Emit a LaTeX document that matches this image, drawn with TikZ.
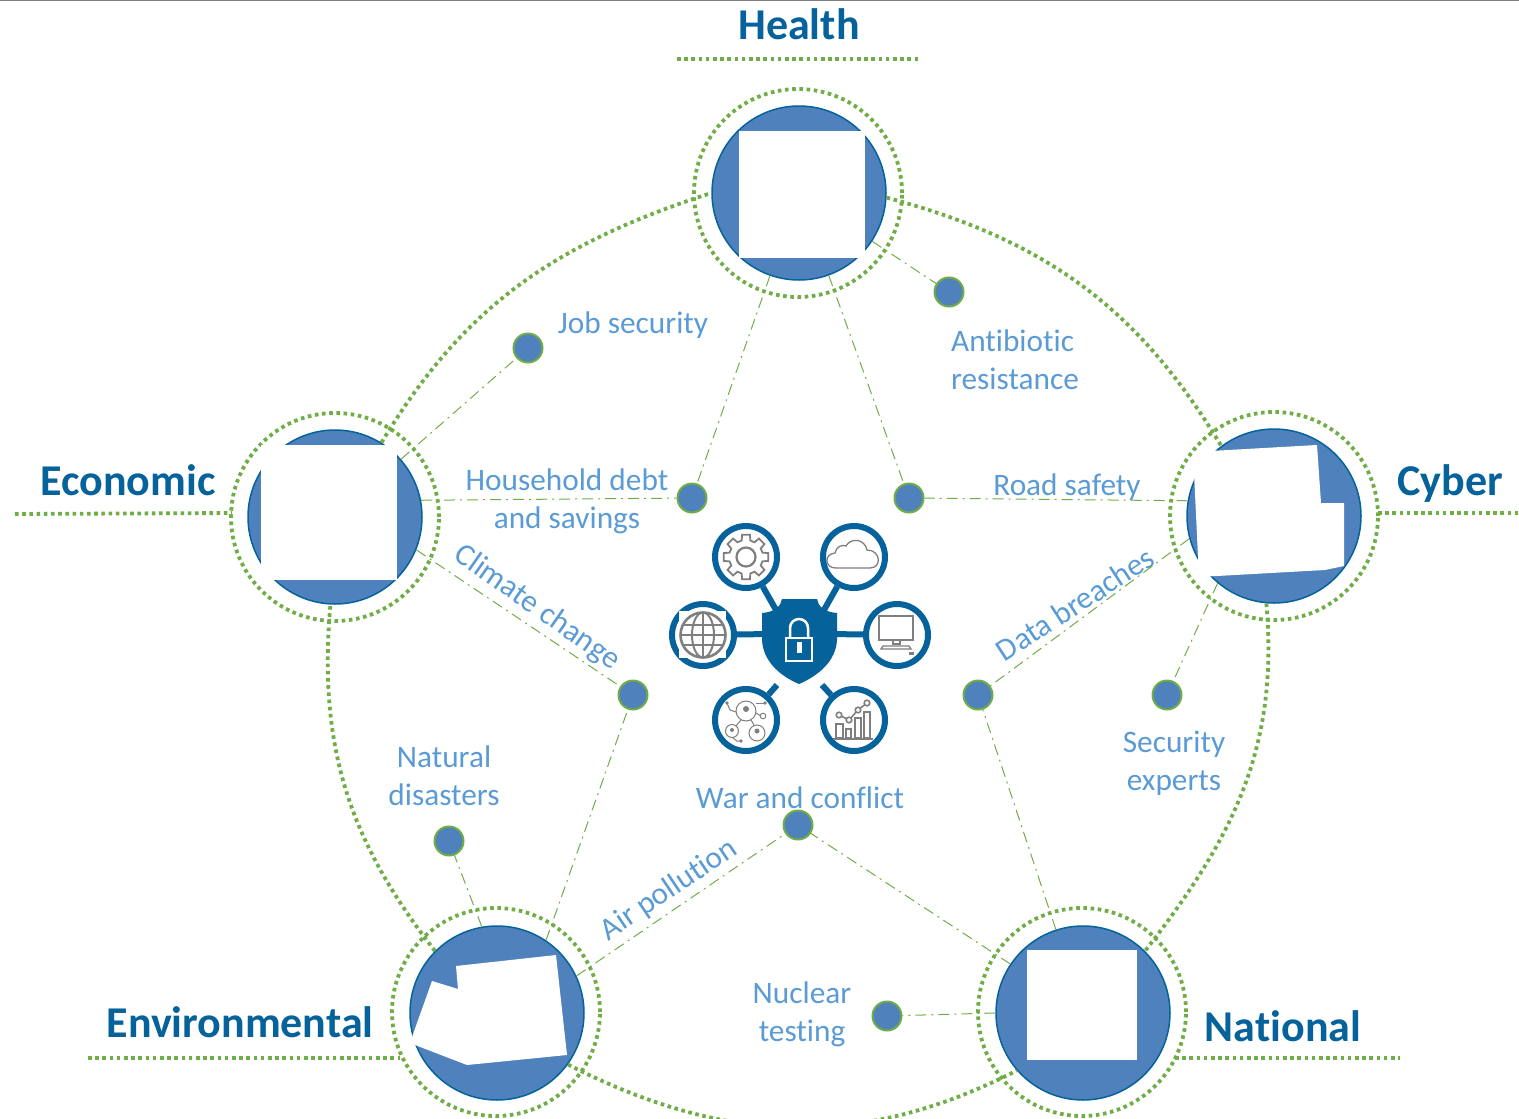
\documentclass[tikz,border=0pt]{standalone}
\usepackage{fontspec}
\setmainfont{Carlito}[Ligatures={NoCommon}]
\usetikzlibrary{calc}
\definecolor{darkblue}{HTML}{05629A}
\definecolor{discblue}{HTML}{4F81BD}
\definecolor{textblue}{HTML}{5B9BD5}
\definecolor{leafgreen}{HTML}{70AD47}
\definecolor{icongray}{HTML}{7F7F7F}

\begin{document}
\begin{tikzpicture}[x=1pt, y=-1pt,
  disc/.style = {shape=circle, draw=darkblue, fill=discblue, line width=1.5pt,
    minimum size=174pt, inner sep=0pt},
  ring/.style = {shape=circle, draw=leafgreen, dotted line, minimum size=208pt, inner sep=0pt},
  dotted line/.style = {line width=3.8pt, dash pattern=on 3.6pt off 3.6pt},
  greenline/.style = {draw=leafgreen, dotted line},
  thinline/.style = {draw=leafgreen, line width=1pt, dash pattern=on 11pt off 5pt on 2pt off 5pt},
  riskdot/.style = {shape=circle, draw=leafgreen, fill=discblue, line width=2pt,
    minimum size=29pt, inner sep=0pt},
  topic/.style = {text=darkblue, inner sep=0pt, font=\fontsize{44}{48}\selectfont\bfseries},
  risk/.style = {text=textblue, inner sep=0pt, align=center,
    font=\fontsize{31.3}{38}\selectfont},
  cover/.style = {fill=white, draw=none},
  iconring/.style = {shape=circle, draw=darkblue, fill=white, line width=6pt,
    minimum size=62pt, inner sep=0pt},
  spoke/.style = {draw=darkblue, line width=6pt},
  iconline/.style = {draw=icongray, line width=1.3pt}]
  \useasboundingbox (0,0) rectangle (1519,1119);
  \clip (0,0) rectangle (1519,1119);
  \draw[icongray, line width=2pt] (0,0) -- (1519,0);

  % the five topics
  \node[ring] (healthring) at (798,193) {};
  \node[ring] (economicring) at (335,517) {};
  \node[ring] (cyberring) at (1274,516) {};
  \node[ring] (environmentalring) at (496,1012) {};
  \node[ring] (nationalring) at (1082,1012) {};
  \node[disc] (health) at (799,193) {};
  \node[disc] (economic) at (335,517) {};
  \node[disc] (cyber) at (1274,516) {};
  \node[disc] (environmental) at (497,1013) {};
  \node[disc] (national) at (1083,1013) {};

  % white pictures on the discs
  \fill[cover] (739,131) rectangle (865,258);
  \fill[cover] (261,445) rectangle (397,580);
  \fill[cover] (1027,950) rectangle (1137,1060);
  \fill[cover] (1193,452) -- (1317,445) -- (1321,503) -- (1344,503) -- (1344,566)
    -- (1325,570) -- (1199,577) -- cycle;
  \fill[cover] (456,966) -- (556,955) -- (567,1055) -- (467,1065) -- (415,1045)
    -- (412,1037) -- (432,981) -- (458,989) -- cycle;

  % big arcs
  \draw[greenline] (health.-3) to[out=-15, in=121] (cyber.127);
  \draw[greenline] (economic.58) to[out=59, in=198] (health.180);
  \draw[greenline] (cyber.-95) to[out=-85, in=52] (national.45);
  \draw[greenline] (environmental.135) to[out=128, in=-95] (economic.-93);
  \draw[greenline] (environmental.-36) to[out=-27, in=207] (national.221);

  % titles
  \node[topic] (healthtitle) at (799,24) {Health};
  \node[topic] (economictitle) at (128,480) {Economic};
  \node[topic] (cybertitle) at (1450,484) {Cyber};
  \node[topic] (environmentaltitle) at (240,1022) {Environmental};
  \node[topic] (nationaltitle) at (1283,1026) {National};
  \coordinate (healthleft) at (677,59);
  \coordinate (healthright) at (919,59);
  \coordinate (economicleft) at (15,514);
  \coordinate (economicright) at (232,513);
  \coordinate (cyberleft) at (1378,513);
  \coordinate (cyberright) at (1518,513);
  \coordinate (environmentalleft) at (88,1058);
  \coordinate (environmentalright) at (400,1058);
  \coordinate (nationalleft) at (1175,1058);
  \coordinate (nationalright) at (1400,1058);
  \draw[greenline] (healthleft) -- (healthright);
  \draw[greenline] (economicleft) -- (economicright);
  \draw[greenline] (cyberleft) -- (cyberright);
  \draw[greenline] (environmentalleft) -- (environmentalright);
  \draw[greenline] (nationalleft) -- (nationalright);

  % small dots and their labels
  \node[riskdot] (jobdot) at (528,348) {};
  \node[riskdot] (antibioticdot) at (949,292) {};
  \node[riskdot] (debtdot) at (692,498) {};
  \node[riskdot] (roaddot) at (909,498) {};
  \node[riskdot] (climatedot) at (633,695) {};
  \node[riskdot] (breachdot) at (978,695) {};
  \node[riskdot] (expertdot) at (1167,695) {};
  \node[riskdot] (naturaldot) at (449,841) {};
  \node[riskdot] (wardot) at (798,825) {};
  \node[riskdot] (nucleardot) at (887,1016) {};

  \node[risk] (joblabel) at (633,325) {Job security};
  \node[risk, align=left] (antibioticlabel) at (1015,360) {Antibiotic\\resistance};
  \node[risk] (debtlabel) at (567,501) {Household debt\\and savings};
  \node[risk] (roadlabel) at (1067,487) {Road safety};
  \node[risk, rotate=-35] (climatelabel) at (537,608) {Climate change};
  \node[risk, rotate=33] (breachlabel) at (1075,604) {Data breaches};
  \node[risk] (expertlabel) at (1174,763) {Security\\experts};
  \node[risk] (naturallabel) at (444,776) {Natural\\disasters};
  \node[risk] (warlabel) at (800,798) {War and conflict};
  \node[risk, rotate=34] (airlabel) at (669,890) {Air pollution};
  \node[risk] (nuclearlabel) at (802,1014) {Nuclear\\testing};

  \draw[thinline] (health) -- (antibioticdot);
  \draw[thinline] (health) -- (debtdot);
  \draw[thinline] (health) -- (roaddot);
  \draw[thinline] (economic) -- (jobdot);
  \draw[thinline] (economic.11) -- (debtdot);
  \draw[thinline] (economic.-22) -- (climatedot);
  \draw[thinline] (cyber.170) -- (roaddot);
  \draw[thinline] (cyber.195) -- (breachdot);
  \draw[thinline] (cyber.230) -- (expertdot);
  \draw[thinline] (environmental.100) -- (naturaldot);
  \draw[thinline] (environmental.56) -- (climatedot);
  \draw[thinline] (environmental.25) -- (wardot);
  \draw[thinline] (national.146) -- (wardot);
  \draw[thinline] (national.108) -- (breachdot);
  \draw[thinline] (national.west) -- (nucleardot);

  % shield in the middle
  \node[iconring] (gearicon) at (746,557) {};
  \node[iconring] (cloudicon) at (854,557) {};
  \node[iconring] (globeicon) at (703,635) {};
  \node[iconring] (pcicon) at (897,635) {};
  \node[iconring] (peopleicon) at (746,720) {};
  \node[iconring] (charticon) at (854,720) {};
  \coordinate (gearstub) at (780,617);
  \coordinate (cloudstub) at (820,617);
  \coordinate (globestub) at (770,634);
  \coordinate (pcstub) at (830,634);
  \coordinate (peoplestub) at (777,685);
  \coordinate (chartstub) at (822,685);
  \draw[spoke] (gearicon) -- (gearstub);
  \draw[spoke] (cloudicon) -- (cloudstub);
  \draw[spoke] (globeicon) -- (globestub);
  \draw[spoke] (pcicon) -- (pcstub);
  \draw[spoke] (peopleicon) -- (peoplestub);
  \draw[spoke] (charticon) -- (chartstub);
  \fill[darkblue] (782,599) -- (817,599) .. controls (818,606) and (824,612) .. (837,613)
    -- (837,640) .. controls (836,660) and (820,675) .. (799,684)
    .. controls (778,675) and (763,660) .. (762,640) -- (762,613)
    .. controls (775,612) and (781,606) .. (782,599) -- cycle;
  \draw[white, line width=2.5pt] (790,638) -- (790,628) arc[start angle=180, end angle=360, radius=9] -- (808,638);
  \draw[white, line width=2.5pt] (786,638) rectangle (812,661);
  \fill[white] (797,642) rectangle (802,653);

  % gear
  \begin{scope}[shift={(gearicon)}]
    \draw[iconline, line width=1.8pt] (-10:22.5)
    \foreach \a in {0,45,...,315} {
      -- (\a-10:22.5) -- (\a+10:22.5) -- (\a+15:17) -- (\a+30:17)
    } -- cycle;
    \draw[iconline, line width=2.2pt] (0,0) circle (9.5);
  \end{scope}
  % cloud
  \begin{scope}[shift={(cloudicon)}]
    \draw[iconline] (-18,11) .. controls (-30,11) and (-30,-3) .. (-19,-4)
      .. controls (-18,-10) and (-12,-13) .. (-8,-11)
      .. controls (-3,-20) and (11,-18) .. (13,-7)
      .. controls (27,-7) and (28,11) .. (16,11) -- cycle;
  \end{scope}
  % globe
  \fill[white] (679,611) rectangle (726,658);
  \begin{scope}[shift={(globeicon)}]
    \draw[iconline, line width=2.6pt] (0,0) circle (22.5);
    \draw[iconline, line width=2pt] (0,0) ellipse (11 and 22.5);
    \draw[iconline, line width=2pt] (0,-22.5) -- (0,22.5);
    \draw[iconline, line width=2pt] (-22.5,0) -- (22.5,0);
    \draw[iconline, line width=2pt] (-19,-10) -- (19,-10);
    \draw[iconline, line width=2pt] (-19,10) -- (19,10);
  \end{scope}
  % computer
  \begin{scope}[shift={(pcicon)}]
    \draw[iconline] (-18,-19) rectangle (16,5);
    \draw[iconline] (-4,5) -- (-4,9) -- (3,9) -- (3,5);
    \draw[iconline] (-16,14) -- (-14,11) -- (12,11) -- (14,14) -- cycle;
    \fill[icongray] (12,17) rectangle (17,20);
  \end{scope}
  % people
  \begin{scope}[shift={(peopleicon)}]
    \draw[iconline, line width=1pt] (0,-9) circle (10);
    \draw[iconline, line width=1pt] (-14,11) circle (6.5);
    \draw[iconline, line width=1pt] (11,13) circle (8);
    \draw[iconline, line width=1pt] (-5,0) -- (-10,6);
    \draw[iconline, line width=1pt] (5,0) -- (8,5);
    \draw[iconline, line width=1pt] (10,-17) -- (19,-17);
    \draw[iconline, line width=1pt] (10,-7) -- (15,-4);
    \draw[iconline, line width=1pt] (-10,-8) -- (-16,-10) -- (-19,-17);
    \draw[iconline, line width=1pt] (-13,18) -- (-9,21) -- (-5,21);
    \fill[icongray] (-19,-17) circle (1.8) (19,-17) circle (1.8) (-5,21) circle (1.8);
    \draw[iconline, line width=1pt] (17,-4) circle (2.8);
    \fill[icongray] (0,-11) circle (3) (-14,10) circle (2) (11,11) circle (2.5);
  \end{scope}
  % chart
  \begin{scope}[shift={(charticon)}]
    \draw[iconline] (-18,4) rectangle (-11,18);
    \draw[iconline] (-8,9) rectangle (-3,18);
    \draw[iconline] (1,-2) rectangle (7,18);
    \draw[iconline] (10,-8) rectangle (16,18);
    \draw[iconline, line width=1.8pt] (-21,19) -- (19,19);
    \draw[iconline, line width=1.6pt] (-15,-5) -- (-5,0) -- (4,-10) -- (13,-17);
    \foreach \px/\py in {-15/-5, -5/0, 4/-10, 13/-17} {
      \draw[iconline, fill=white, line width=1.6pt] (\px,\py) circle (2.8);
    }
  \end{scope}
\end{tikzpicture}
\end{document}
